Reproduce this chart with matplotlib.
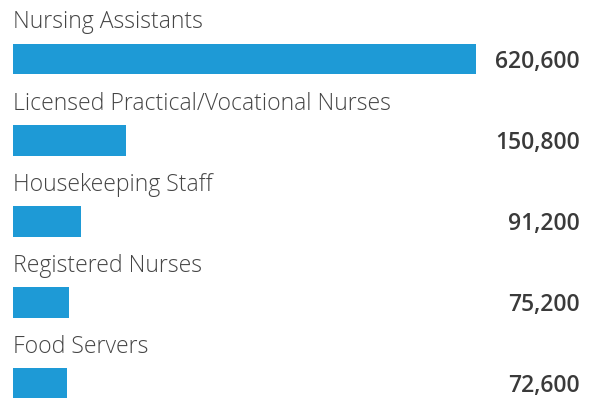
import matplotlib
matplotlib.use("Agg")
import matplotlib.pyplot as plt
from matplotlib.transforms import blended_transform_factory

categories = [
    "Nursing Assistants",
    "Licensed Practical/Vocational Nurses",
    "Housekeeping Staff",
    "Registered Nurses",
    "Food Servers",
]
values = [620600, 150800, 91200, 75200, 72600]
value_labels = ["620,600", "150,800", "91,200", "75,200", "72,600"]

BAR_COLOR = "#1E9AD6"
LABEL_COLOR = "#454545"
VALUE_COLOR = "#3a3a3a"

W, H = 590, 398
fig = plt.figure(figsize=(W / 100, H / 100), dpi=100)

# axes span from the bar origin to the end of the longest bar
left_px, right_px = 13, 476
unit_px = 81.1
top_px = 59 - unit_px / 2
ax_h_px = unit_px * len(categories)
ax = fig.add_axes([left_px / W, 1 - (top_px + ax_h_px) / H,
                   (right_px - left_px) / W, ax_h_px / H])

ypos = list(range(len(categories)))
ax.barh(ypos, values, height=0.38, color=BAR_COLOR, left=0)
ax.set_xlim(0, max(values))
ax.set_ylim(len(categories) - 0.5, -0.5)
ax.axis("off")

value_tf = blended_transform_factory(fig.transFigure, ax.transData)

for y, cat, lab in zip(ypos, categories, value_labels):
    ax.annotate(cat, xy=(0, y), xycoords="data", xytext=(0, 22),
                textcoords="offset points", ha="left", va="baseline",
                fontsize=16.6, family="Open Sans", fontweight="light",
                color=LABEL_COLOR, annotation_clip=False)
    ax.text(580 / W, y, lab, transform=value_tf, ha="right",
            va="center_baseline", fontsize=16.5, family="Open Sans",
            fontweight="semibold", color=VALUE_COLOR, clip_on=False)

fig.savefig("out.png", dpi=100)
